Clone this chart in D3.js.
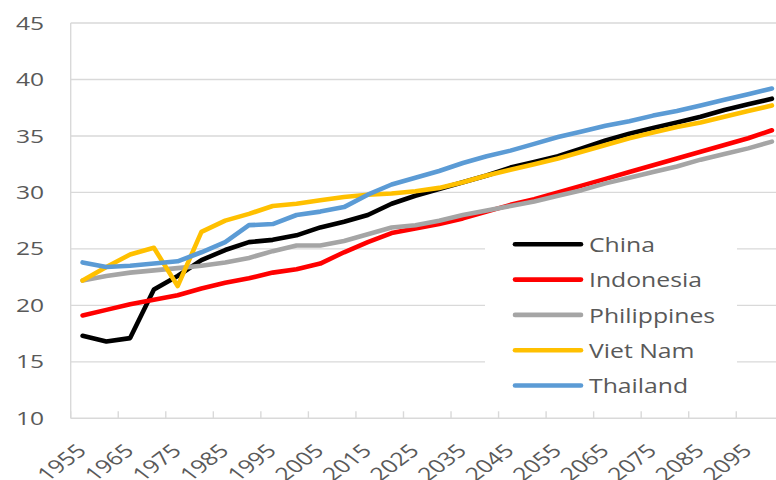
<!DOCTYPE html>
<html>
<head>
<meta charset="utf-8">
<script src="https://cdn.jsdelivr.net/npm/d3@7"></script>
<style>
  html, body { margin: 0; padding: 0; background: #fff; overflow: hidden; }
  text { font-family: "Open Sans", sans-serif; fill: #595959; }
</style>
</head>
<body>
<main></main>
<script>
let svgWidth  = 776;
let svgHeight = 480;

// plot box (the picture is a bit stretched sideways, hence stretchX)
let plotLeft   = 70.7;
let plotRight  = 783.8;
let plotTop    = 23;
let plotBottom = 418.3;
let stretchX   = 1.33;

const years = [1955, 1960, 1965, 1970, 1975, 1980, 1985, 1990, 1995, 2000,
               2005, 2010, 2015, 2020, 2025, 2030, 2035, 2040, 2045, 2050,
               2055, 2060, 2065, 2070, 2075, 2080, 2085, 2090, 2095, 2100];

const yearLabels = [1955, 1965, 1975, 1985, 1995, 2005, 2015, 2025, 2035, 2045,
                    2055, 2065, 2075, 2085, 2095];

const yTicks = [10, 15, 20, 25, 30, 35, 40, 45];

const china       = [17.3, 16.8, 17.1, 21.4, 22.6, 24.0, 24.9, 25.6, 25.8, 26.2,
                     26.9, 27.4, 28.0, 29.0, 29.7, 30.3, 30.9, 31.5, 32.2, 32.7,
                     33.2, 33.9, 34.6, 35.2, 35.7, 36.2, 36.7, 37.3, 37.8, 38.3];
const indonesia   = [19.1, 19.6, 20.1, 20.5, 20.9, 21.5, 22.0, 22.4, 22.9, 23.2,
                     23.7, 24.7, 25.6, 26.4, 26.8, 27.2, 27.7, 28.3, 28.9, 29.4,
                     30.0, 30.6, 31.2, 31.8, 32.4, 33.0, 33.6, 34.2, 34.8, 35.5];
const philippines = [22.2, 22.6, 22.9, 23.1, 23.3, 23.5, 23.8, 24.2, 24.8, 25.3,
                     25.3, 25.7, 26.3, 26.9, 27.1, 27.5, 28.0, 28.4, 28.8, 29.2,
                     29.7, 30.2, 30.8, 31.3, 31.8, 32.3, 32.9, 33.4, 33.9, 34.5];
const vietNam     = [22.2, 23.4, 24.5, 25.1, 21.7, 26.5, 27.5, 28.1, 28.8, 29.0,
                     29.3, 29.6, 29.8, 29.9, 30.1, 30.4, 30.9, 31.5, 32.0, 32.5,
                     33.0, 33.6, 34.2, 34.8, 35.3, 35.8, 36.2, 36.7, 37.2, 37.7];
const thailand    = [23.8, 23.4, 23.5, 23.7, 23.9, 24.7, 25.6, 27.1, 27.2, 28.0,
                     28.3, 28.7, 29.8, 30.7, 31.3, 31.9, 32.6, 33.2, 33.7, 34.3,
                     34.9, 35.4, 35.9, 36.3, 36.8, 37.2, 37.7, 38.2, 38.7, 39.2];

const seriesNames  = ['China', 'Indonesia', 'Philippines', 'Viet Nam', 'Thailand'];
const seriesColors = ['#000000', '#FF0000', '#A5A5A5', '#FFC000', '#5B9BD5'];

document.addEventListener("DOMContentLoaded", function() {
  let series = [china, indonesia, philippines, vietNam, thailand].map(function(vals, i) {
    return { name: seriesNames[i], color: seriesColors[i], values: vals };
  });

  let x = d3.scaleBand().domain(years).range([plotLeft, plotRight]);
  let y = d3.scaleLinear().domain([10, 45]).range([plotBottom, plotTop]);
  let cx = function(yr) { return x(yr) + x.bandwidth() / 2; };

  let svg = d3
    .select("body main")
    .append('svg')
    .attr('width', svgWidth)
    .attr('height', svgHeight)
  ;

  // horizontal gridlines
  svg.append('g')
    .selectAll('line')
    .data(yTicks.slice(1))
    .enter()
      .append('line')
        .attr('x1', plotLeft)
        .attr('x2', plotRight)
        .attr('y1', function(d) { return y(d); })
        .attr('y2', function(d) { return y(d); })
        .attr('stroke', '#D9D9D9')
        .attr('stroke-width', 1.4)
  ;

  // y axis line and labels
  svg.append('line')
    .attr('x1', plotLeft).attr('x2', plotLeft)
    .attr('y1', plotTop).attr('y2', plotBottom)
    .attr('stroke', '#D9D9D9')
    .attr('stroke-width', 1.4)
  ;

  svg.append('g')
    .selectAll('text')
    .data(yTicks)
    .enter()
      .append('text')
        .attr('transform', function(d) {
          return 'translate(44,' + (y(d) + 6.6) + ') scale(' + stretchX + ',1)';
        })
        .attr('text-anchor', 'end')
        .attr('font-size', '18.5px')
        .text(function(d) { return d; })
  ;

  // x axis line, inside ticks every two categories, rotated labels
  svg.append('line')
    .attr('x1', plotLeft).attr('x2', plotRight)
    .attr('y1', plotBottom).attr('y2', plotBottom)
    .attr('stroke', '#D9D9D9')
    .attr('stroke-width', 1.6)
  ;

  svg.append('g')
    .selectAll('line')
    .data(years.filter(function(d, i) { return i % 2 === 0; }))
    .enter()
      .append('line')
        .attr('x1', function(d) { return x(d); })
        .attr('x2', function(d) { return x(d); })
        .attr('y1', plotBottom)
        .attr('y2', plotBottom - 7)
        .attr('stroke', '#D9D9D9')
        .attr('stroke-width', 1.4)
  ;

  svg.append('g')
    .selectAll('text')
    .data(yearLabels)
    .enter()
      .append('text')
        .attr('transform', function(d) {
          return 'translate(' + (cx(d) + 5) + ',452) scale(' + stretchX + ',1) rotate(-45)';
        })
        .attr('text-anchor', 'end')
        .attr('font-size', '18.5px')
        .text(function(d) { return d; })
  ;

  // series lines
  let line = d3.line()
    .x(function(d, i) { return cx(years[i]); })
    .y(function(d) { return y(d); })
  ;

  svg.append('g')
    .selectAll('path')
    .data(series)
    .enter()
      .append('path')
        .attr('d', function(d) { return line(d.values); })
        .attr('fill', 'none')
        .attr('stroke', function(d) { return d.color; })
        .attr('stroke-width', 4.6)
        .attr('stroke-linejoin', 'round')
        .attr('stroke-linecap', 'round')
  ;

  // legend
  let legend = svg.append('g');

  legend.append('rect')
    .attr('x', 485).attr('y', 226)
    .attr('width', 252).attr('height', 178)
    .attr('fill', '#FFFFFF')
  ;

  let rows = legend
    .selectAll('g')
    .data(series)
    .enter()
      .append('g')
        .attr('transform', function(d, i) { return 'translate(0,' + (244.3 + i * 35.3) + ')'; })
  ;

  rows.append('line')
    .attr('x1', 515).attr('x2', 581)
    .attr('y1', 0).attr('y2', 0)
    .attr('stroke', function(d) { return d.color; })
    .attr('stroke-width', 4.6)
    .attr('stroke-linecap', 'round')
  ;

  rows.append('text')
    .attr('transform', 'translate(589,7.8) scale(1.27,1)')
    .attr('font-size', '19.5px')
    .text(function(d) { return d.name; })
  ;
});
</script>
</body>
</html>
